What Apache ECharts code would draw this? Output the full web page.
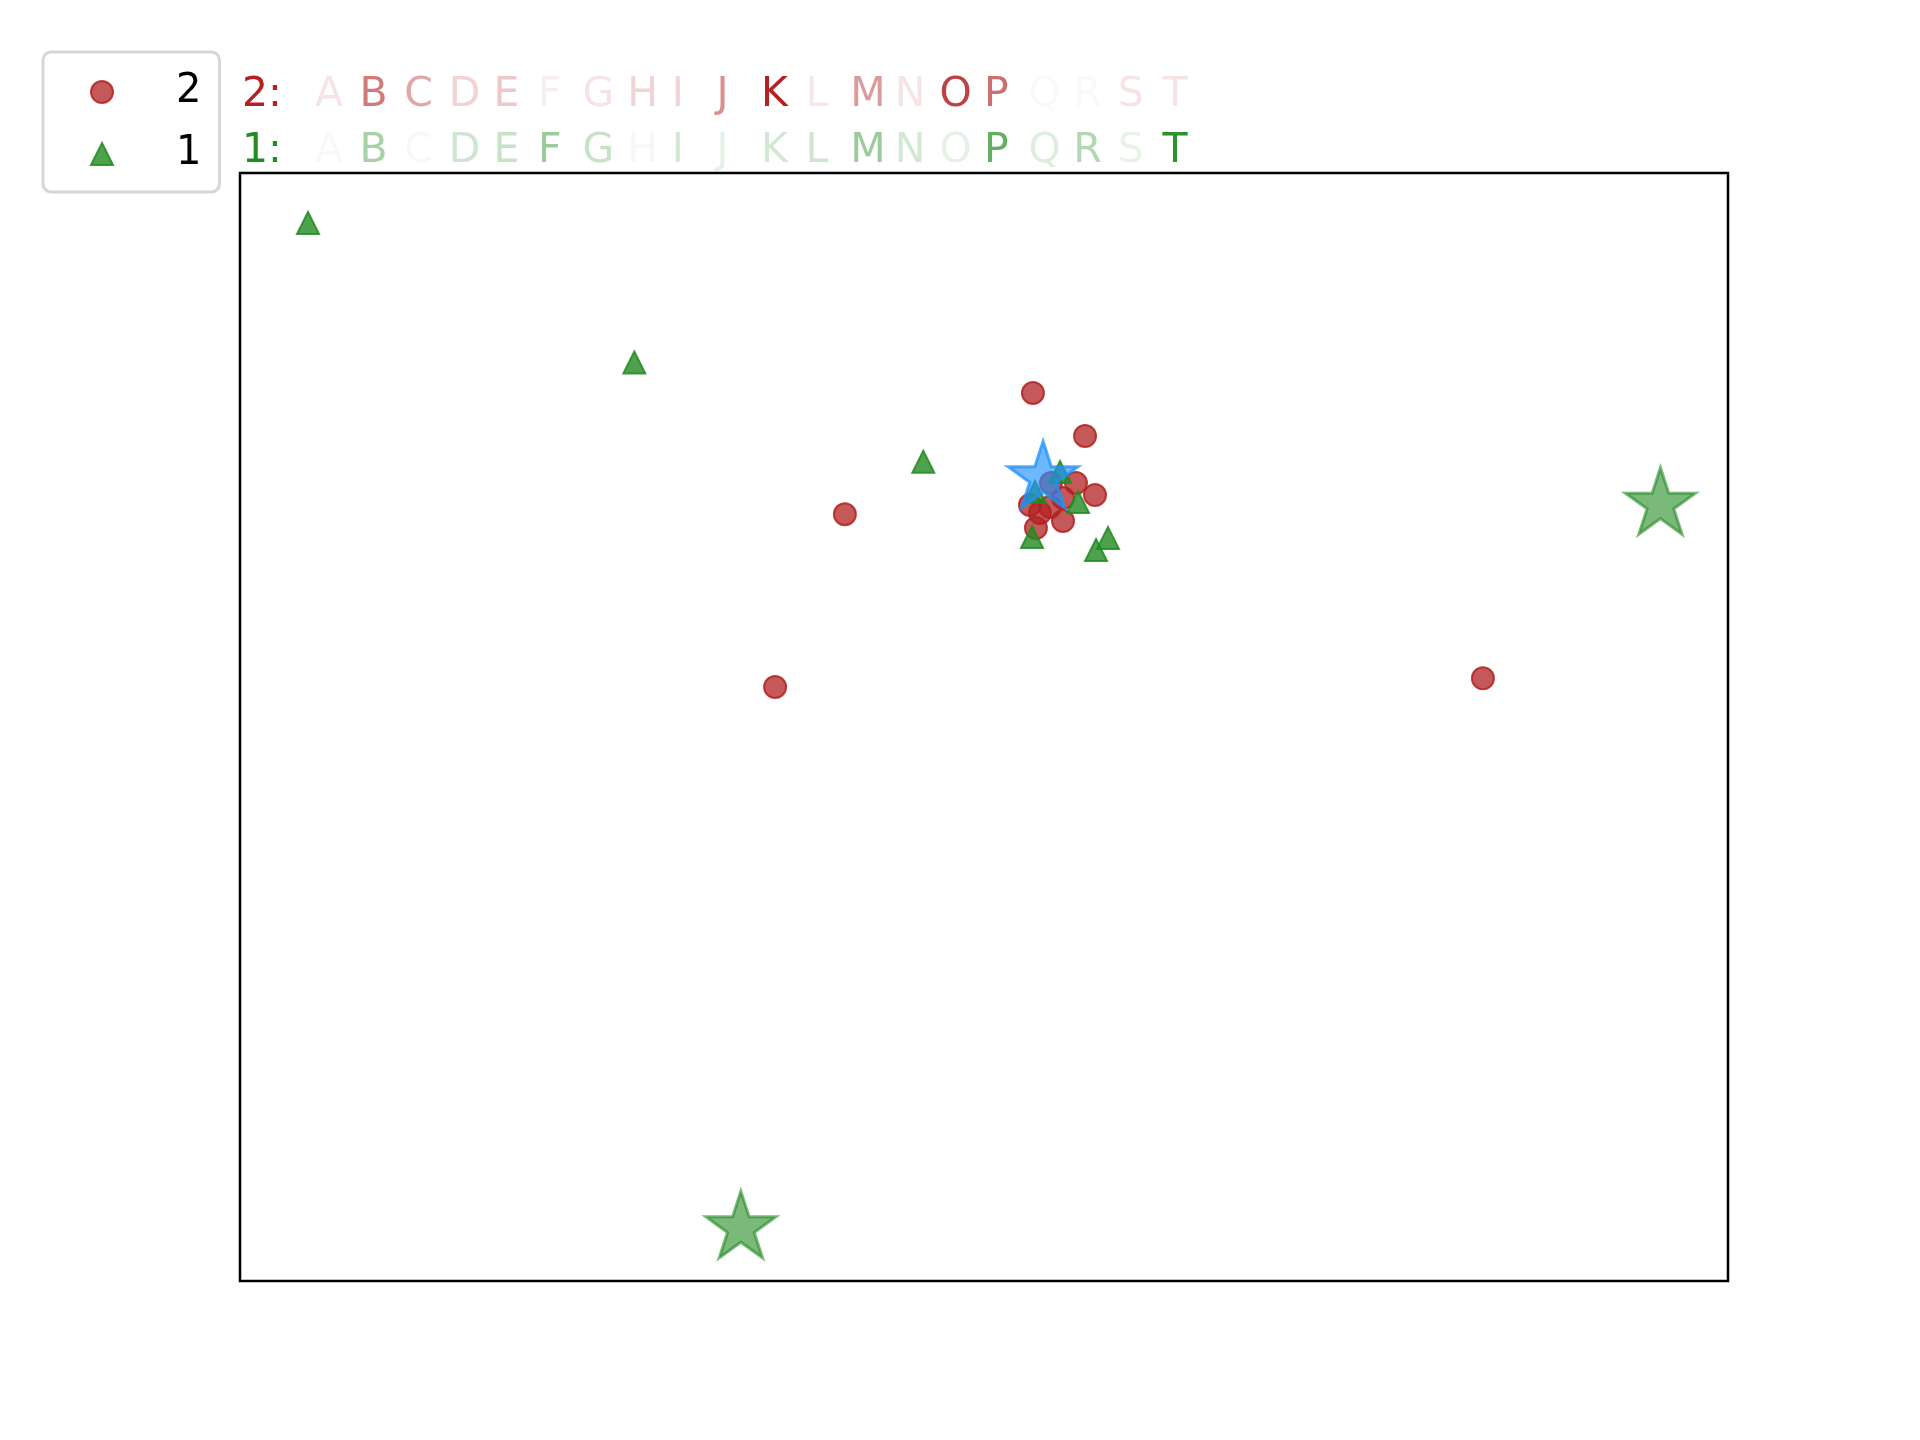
<!DOCTYPE html>
<html>
<head>
<meta charset="utf-8">
<script src="https://cdn.jsdelivr.net/npm/echarts@6/dist/echarts.min.js"></script>
<style>
  html, body { margin: 0; padding: 0; background: #fff; }
  #main { width: 1920px; height: 1440px; }
</style>
</head>
<body>
<div id="main"></div>
<script>
// series "2" (red circles) and "1" (green triangles), x/y in plot units
var redPoints = [
    [53.29, 80.14], [56.79, 76.26], [40.65, 69.20], [35.96, 53.61], [83.53, 54.39],
    [54.50, 72.02], [56.18, 72.02], [57.46, 70.94], [53.09, 70.04], [53.76, 69.31],
    [54.44, 69.86], [55.31, 70.67], [55.31, 68.59], [53.49, 67.96]
];
var greenPoints = [
    [4.57, 95.49], [26.50, 82.90], [45.92, 73.95], [55.11, 73.01], [56.32, 70.31],
    [53.23, 67.15], [58.33, 67.06], [57.53, 65.97], [53.43, 71.21]
];
var greenStars = [[95.46, 70.08], [33.66, 4.77]];
var blueStar = [[53.97, 72.47]];

// letter rows above the plot, with the opacity of each letter
var letters = ['A','B','C','D','E','F','G','H','I','J','K','L','M','N','O','P','Q','R','S','T'];
var redAlpha = [0.12, 0.6, 0.4, 0.2, 0.25, 0.08, 0.12, 0.2, 0.2, 0.5, 1.0, 0.1, 0.45, 0.12, 0.85, 0.65, 0.03, 0.03, 0.12, 0.12];
var greenAlpha = [0.04, 0.4, 0.04, 0.22, 0.25, 0.45, 0.25, 0.05, 0.2, 0.12, 0.2, 0.22, 0.45, 0.2, 0.12, 0.7, 0.15, 0.35, 0.1, 0.95];

var starPath = 'path://M100,0L122.45,69.1L195.1,69.1L136.3,111.8L158.8,180.9L100,138.2L41.2,180.9L63.7,111.8L4.9,69.1L77.55,69.1Z';

function letterRow(label, rgb, alphas, top) {
    var base = { fontSize: 41, fontWeight: 'normal', fontFamily: 'DejaVu Sans', lineHeight: 56 };
    var rich = {
        lab: Object.assign({ color: 'rgb(' + rgb + ')', width: 73 }, base)
    };
    var text = '{lab|' + label + '}';
    letters.forEach(function (l, i) {
        rich['c' + i] = Object.assign({ color: 'rgba(' + rgb + ',' + alphas[i] + ')', width: 44.6 }, base);
        text += '{c' + i + '|' + l + '}';
    });
    return {
        text: text,
        left: 242,
        top: top,
        padding: 0,
        textStyle: Object.assign({ rich: rich }, base)
    };
}

var myChart = echarts.init(document.getElementById('main'));
var option = {
    animation: false,
    backgroundColor: '#fff',
    title: [
        letterRow('2:', '178,34,34', redAlpha, 67),
        letterRow('1:', '34,139,34', greenAlpha, 123)
    ],
    legend: {
        orient: 'vertical',
        left: 43,
        top: 52,
        padding: [20, 18, 18, 47],
        itemWidth: 22,
        itemHeight: 22,
        itemGap: 22,
        backgroundColor: '#fff',
        borderColor: '#d6d6d6',
        borderWidth: 3,
        borderRadius: 8,
        textStyle: { fontSize: 40, color: '#000', fontFamily: 'DejaVu Sans', padding: [4, 0, 0, 58] },
        data: [{ name: '2', icon: 'circle' }, { name: '1', icon: 'triangle' }]
    },
    grid: {
        left: 240, top: 173, width: 1488, height: 1108,
        show: true, borderColor: '#000', borderWidth: 2.5, backgroundColor: 'transparent'
    },
    xAxis: {
        type: 'value', min: 0, max: 100,
        axisLine: { show: false }, axisTick: { show: false }, axisLabel: { show: false }, splitLine: { show: false }
    },
    yAxis: {
        type: 'value', min: 0, max: 100,
        axisLine: { show: false }, axisTick: { show: false }, axisLabel: { show: false }, splitLine: { show: false }
    },
    series: [
        {
            name: '2', type: 'scatter', symbol: 'circle', symbolSize: 22,
            itemStyle: { color: 'rgba(178,34,34,0.75)', borderColor: 'rgba(178,34,34,0.85)', borderWidth: 2, opacity: 1 },
            data: redPoints
        },
        {
            name: '1', type: 'scatter', symbol: 'triangle', symbolSize: 22,
            itemStyle: { color: 'rgba(34,139,34,0.8)', borderColor: 'rgba(34,139,34,0.85)', borderWidth: 2, opacity: 1 },
            data: greenPoints
        },
        {
            name: 'greenStar', type: 'scatter', symbol: starPath, symbolSize: 70,
            symbolKeepAspect: true, symbolOffset: [0, '-5%'],
            itemStyle: { color: 'rgba(34,139,34,0.6)', borderColor: 'rgba(34,139,34,0.6)', borderWidth: 3, opacity: 1 },
            data: greenStars
        },
        {
            name: 'blueStar', type: 'scatter', symbol: starPath, symbolSize: 70,
            symbolKeepAspect: true, symbolOffset: [0, '-5%'],
            itemStyle: { color: 'rgba(30,144,255,0.65)', borderColor: 'rgba(30,144,255,0.75)', borderWidth: 3, opacity: 1 },
            data: blueStar
        }
    ]
};
myChart.setOption(option);
</script>
</body>
</html>
